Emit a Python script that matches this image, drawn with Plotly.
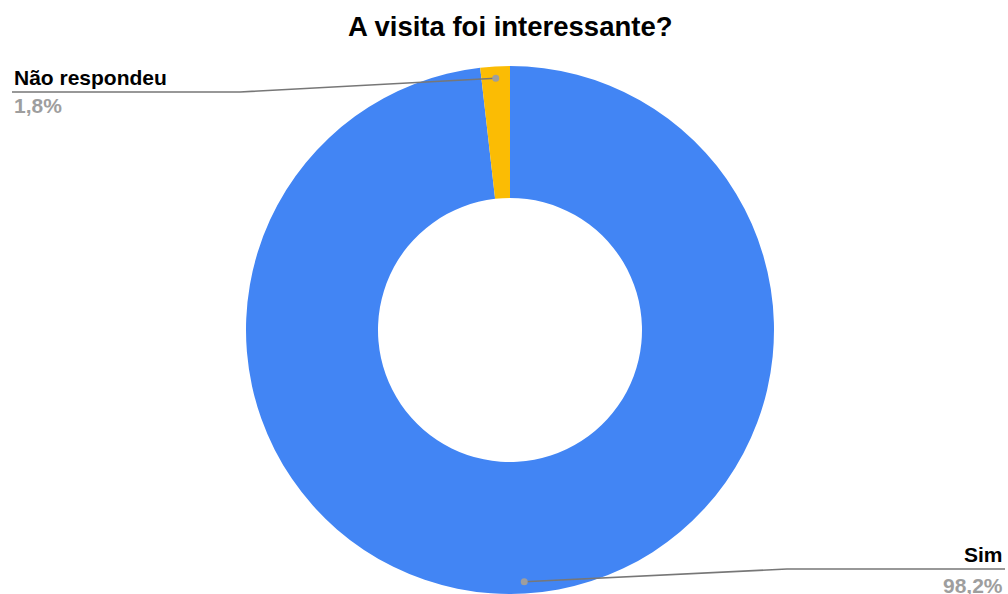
import math
import plotly.graph_objects as go

# Survey answers
labels = ["Sim", "Não respondeu"]
values = [98.2, 1.8]
colors = ["#4285F4", "#FBBC04"]
title_text = "A visita foi interessante?"

W, H = 1008, 594
CX, CY, R = 510, 330, 264  # donut centre and outer radius in pixels

# label placement: (text anchor x, text side, elbow x, horizontal line y, name y, pct y)
label_layout = {
    "Sim": dict(tx=1005, anchor="right", elbow=787, ly=569, ny=554, py=585),
    "Não respondeu": dict(tx=12, anchor="left", elbow=240, ly=92, ny=78, py=106),
}


def px(x):
    return x / W


def py(y):
    return 1 - y / H


fig = go.Figure(
    go.Pie(
        labels=labels,
        values=values,
        hole=0.5,
        sort=False,
        direction="clockwise",
        rotation=0,
        textinfo="none",
        marker=dict(colors=colors, line=dict(width=0)),
        domain=dict(x=[px(CX - R), px(CX + R)], y=[py(CY + R), py(CY - R)]),
        showlegend=False,
    )
)

total = sum(values)
shapes = []
annotations = []
start = 0.0
for lab, val in zip(labels, values):
    frac = val / total
    mid = (start + frac / 2) * 2 * math.pi  # clockwise from 12 o'clock
    start += frac
    dr = 0.955 * R
    dx = CX + dr * math.sin(mid)
    dy = CY - dr * math.cos(mid)
    cfg = label_layout[lab]

    # leader line: from slice dot to elbow, then horizontal under the label
    shapes.append(dict(
        type="path", xref="paper", yref="paper",
        path=f"M {px(dx)} {py(dy)} L {px(cfg['elbow'])} {py(cfg['ly'])} L {px(cfg['tx'])} {py(cfg['ly'])}",
        line=dict(color="#777777", width=1.6),
    ))
    rr = 3.5
    shapes.append(dict(
        type="circle", xref="paper", yref="paper",
        x0=px(dx - rr), x1=px(dx + rr), y0=py(dy + rr), y1=py(dy - rr),
        fillcolor="#9E9E9E", line=dict(width=0),
    ))

    pct = f"{frac * 100:.1f}%".replace(".", ",")
    annotations.append(dict(
        x=px(cfg["tx"]), y=py(cfg["ny"]), xref="paper", yref="paper",
        xanchor=cfg["anchor"], yanchor="middle", showarrow=False,
        text=f"<b>{lab}</b>",
        font=dict(family="Liberation Sans, Arial", size=21, color="#000000"),
    ))
    annotations.append(dict(
        x=px(cfg["tx"]), y=py(cfg["py"]), xref="paper", yref="paper",
        xanchor=cfg["anchor"], yanchor="middle", showarrow=False,
        text=f"<b>{pct}</b>",
        font=dict(family="Liberation Sans, Arial", size=21, color="#9E9E9E"),
    ))

annotations.append(dict(
    x=px(510), y=py(27), xref="paper", yref="paper",
    xanchor="center", yanchor="middle", showarrow=False,
    text=f"<b>{title_text}</b>",
    font=dict(family="Liberation Sans, Arial", size=27.5, color="#000000"),
))

fig.update_layout(
    width=W,
    height=H,
    margin=dict(l=0, r=0, t=0, b=0),
    paper_bgcolor="white",
    plot_bgcolor="white",
    shapes=shapes,
    annotations=annotations,
)

fig.write_html("out.html")
